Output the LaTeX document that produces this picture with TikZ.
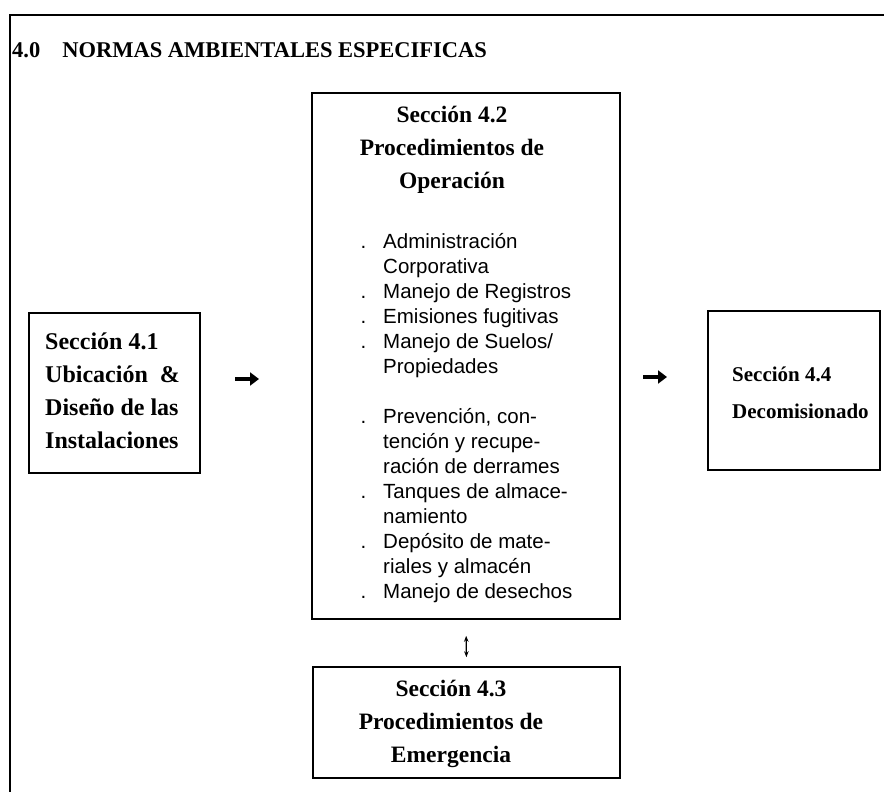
\documentclass[tikz,border=0pt]{standalone}
\usepackage{fontspec}
\setmainfont{Liberation Serif}
\setsansfont{Liberation Sans}
\usetikzlibrary{arrows.meta}
\newcommand{\punto}{\llap{.\hspace{17pt}}}

\begin{document}
\begin{tikzpicture}[x=1pt,y=-1pt,
	caja/.style={draw, line width=1.6pt, inner sep=0pt},
	cabeza/.style={font=\bfseries\fontsize{23.5}{33}\selectfont, inner sep=0pt, align=center, anchor=north},
	lista/.style={font=\sffamily\fontsize{20.5}{25}\selectfont, inner sep=0pt, align=left, anchor=north west},
	flecha/.style={line width=4pt, -{Triangle[length=9pt,width=13pt]}}]
	\useasboundingbox (0,0) rectangle (884,792);
	\draw[line width=2pt] (10,792)--(10,15)--(884,15);
	\node[anchor=base west, inner sep=0pt, font=\bfseries\fontsize{22.5}{27}\selectfont] (tit) at (12,58) {4.0\hspace{22pt}NORMAS AMBIENTALES ESPECIFICAS};
	% cajas
	\node[caja, minimum width=171pt, minimum height=160pt] (s41) at (114.5,393) {};
	\node[caja, minimum width=308pt, minimum height=526pt] (s42) at (466,356) {};
	\node[caja, minimum width=307pt, minimum height=111pt] (s43) at (466.5,722.5) {};
	\node[caja, minimum width=172pt, minimum height=159pt] (s44) at (794,390.5) {};
	% textos
	\node[cabeza, anchor=north west, align=left, font=\bfseries\fontsize{24}{33}\selectfont] (t41) at (45,333) {Sección 4.1\\Ubicación \ \&\\Diseño de las\\Instalaciones};
	\node[cabeza] (t42) at (452,106) {Sección 4.2\\Procedimientos de\\Operación};
	\node[lista] (l42) at (383,233) {\punto Administración\\
		Corporativa\\
		\punto Manejo de Registros\\
		\punto Emisiones fugitivas\\
		\punto Manejo de Suelos/\\
		Propiedades\\[25pt]
		\punto Prevención, con-\\
		tención y recupe-\\
		ración de derrames\\
		\punto Tanques de almace-\\
		namiento\\
		\punto Depósito de mate-\\
		riales y almacén\\
		\punto Manejo de desechos};
	\node[cabeza] (t43) at (451,680) {Sección 4.3\\Procedimientos de\\Emergencia};
	\node[cabeza, anchor=north west, align=left, font=\bfseries\fontsize{21}{37}\selectfont] (t44) at (732,367) {Sección 4.4\\Decomisionado};
	% flechas
	\coordinate (f1a) at (235,379);
	\coordinate (f1b) at (259,379);
	\coordinate (f2a) at (643,377);
	\coordinate (f2b) at (667,377);
	\draw[flecha] (f1a)--(f1b);
	\draw[flecha] (f2a)--(f2b);
	\draw[{Stealth[length=6pt]}-{Stealth[length=6pt]}, line width=1.2pt, shorten <=16pt, shorten >=9pt] (s42.south)--(s43.north);
\end{tikzpicture}
\end{document}
